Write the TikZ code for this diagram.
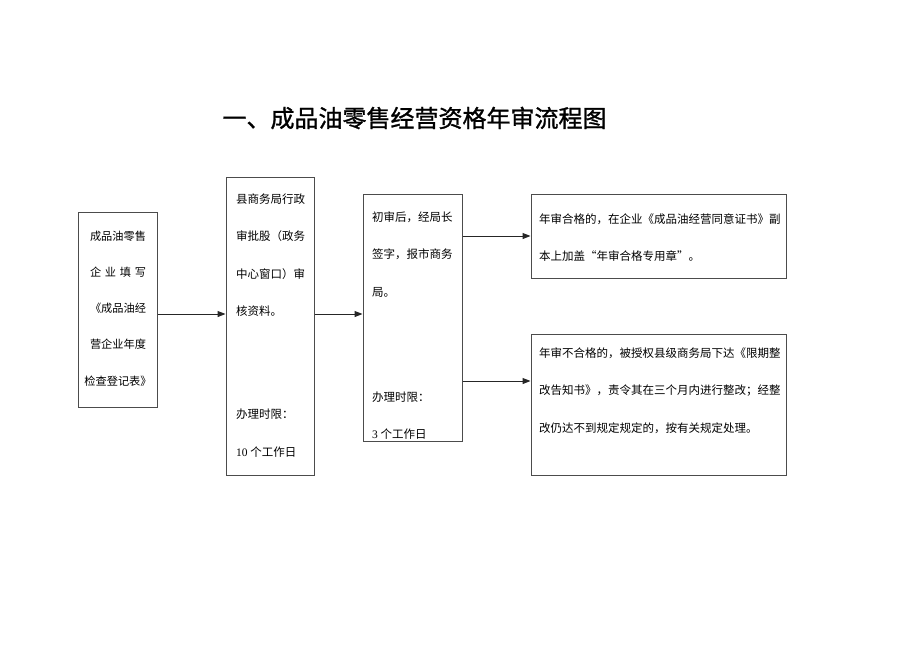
\documentclass[tikz,border=0pt]{standalone}
\usepackage{fontspec}
\setmainfont{Liberation Serif}
\newfontfamily\cjk{Noto Sans CJK SC}
\newfontfamily\titlefont[FakeBold=1.2]{Noto Sans CJK SC}
\usetikzlibrary{arrows.meta}

\begin{document}
\begin{tikzpicture}[x=1pt,y=-1pt,
    box/.style={draw=black!70,line width=1pt,inner sep=0pt},
    txt/.style={font=\cjk\fontsize{11.5}{37.5}\selectfont,align=left,inner sep=0pt},
    arr/.style={-{Triangle[length=8pt,width=6pt]},line width=1pt,black!85}]

    \useasboundingbox (0,0) rectangle (920,651);

    %title
    \node[font=\titlefont\fontsize{24}{24}\selectfont,inner sep=0pt] (title) at (414.5,118) {一、成品油零售经营资格年审流程图};

    %the five boxes
    \node[box,minimum width=79pt,minimum height=195pt] (b1) at (117.5,309.5) {};
    \node[box,minimum width=88pt,minimum height=298pt] (b2) at (270,326) {};
    \node[box,minimum width=99pt,minimum height=247pt] (b3) at (412.5,317.5) {};
    \node[box,minimum width=255pt,minimum height=84pt] (b4) at (658.5,236) {};
    \node[box,minimum width=255pt,minimum height=141pt] (b5) at (658.5,404.5) {};

    %box texts
    \node[txt,align=center,font=\cjk\fontsize{11.2}{36.25}\selectfont] (t1) at (118,308.5)
        {成品油零售\\\makebox[56pt]{企\hfill 业\hfill 填\hfill 写}\\《成品油经\\营企业年度\\检查登记表》};
    \node[txt,anchor=west] (t2) at (236,325.5)
        {县商务局行政\\审批股（政务\\中心窗口）审\\核资料。\\[65.5pt]办理时限：\\{\rmfamily 10} 个工作日};
    \node[txt,anchor=west] (t3) at (372,325.5)
        {初审后，经局长\\签字，报市商务\\局。\\[67.5pt]办理时限：\\{\rmfamily 3} 个工作日};
    \node[txt,anchor=west] (t4) at (539,237.5)
        {年审合格的，在企业《成品油经营同意证书》副\\本上加盖“年审合格专用章”。};
    \node[txt,anchor=west] (t5) at (539,390.5)
        {年审不合格的，被授权县级商务局下达《限期整\\改告知书》，责令其在三个月内进行整改；经整\\改仍达不到规定规定的，按有关规定处理。};

    %arrows
    \coordinate (r1) at (0,314);
    \coordinate (r2) at (0,381);
    \draw[arr] (b1.east |- r1) -- (b2.west |- r1);
    \draw[arr] (b2.east |- r1) -- (b3.west |- r1);
    \draw[arr] (b3.east |- b4.west) -- (b4.west);
    \draw[arr] (b3.east |- r2) -- (b5.west |- r2);

\end{tikzpicture}
\end{document}
